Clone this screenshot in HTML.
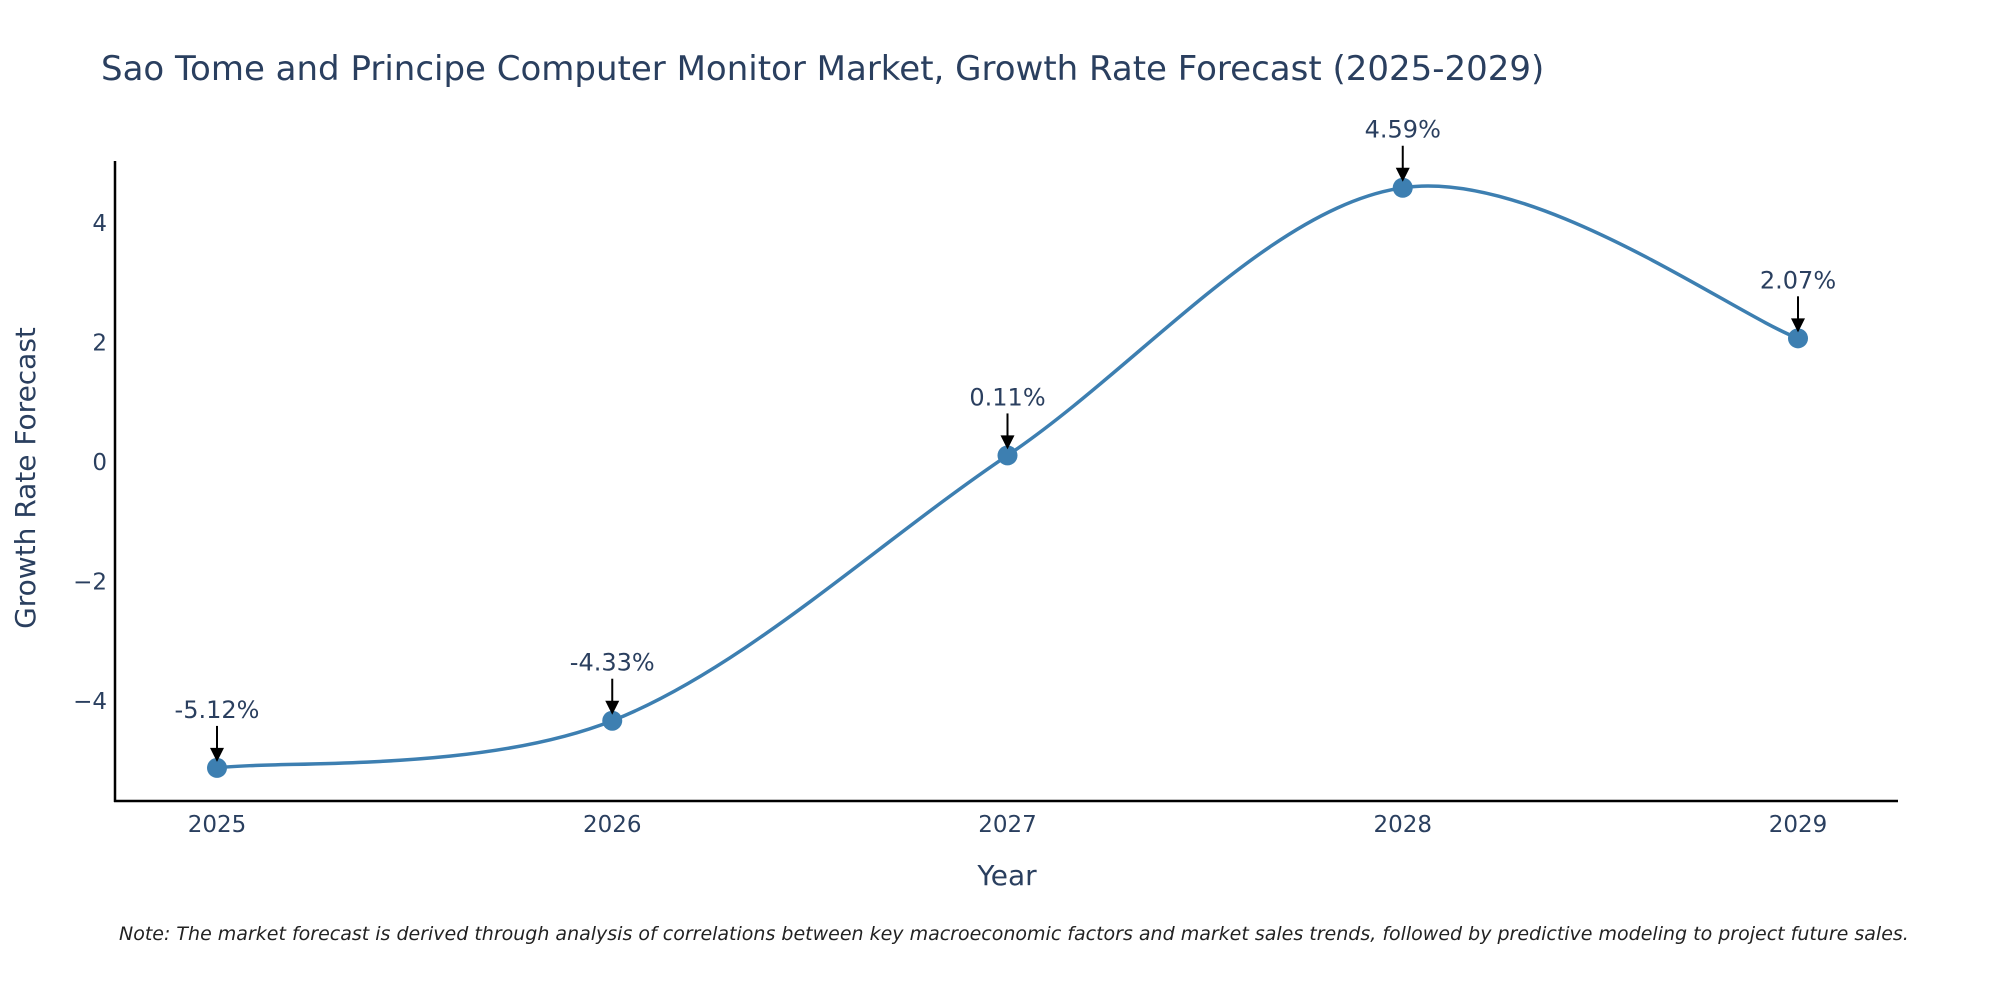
<!DOCTYPE html>
<html><head><meta charset="utf-8">
<style>
html,body{margin:0;padding:0;background:#fff;}
svg{display:block;font-family:"DejaVu Sans","Liberation Sans",sans-serif;}
</style></head>
<body>
<svg id="chart" width="2000" height="1000" viewBox="0 0 2000 1000" xmlns="http://www.w3.org/2000/svg">
<text x="101" y="80" font-size="34" fill="#2a3f5f">Sao Tome and Principe Computer Monitor Market, Growth Rate Forecast (2025-2029)</text>
<g id="yticks"></g>
<g id="xticks"></g>
<line x1="115" y1="161" x2="115" y2="802" stroke="#000" stroke-width="2.5"/>
<line x1="114" y1="801" x2="1898" y2="801" stroke="#000" stroke-width="2.5"/>
<g id="series"></g>
<g id="annots"></g>
<text transform="translate(35,478) rotate(-90)" text-anchor="middle" font-size="28" fill="#2a3f5f">Growth Rate Forecast</text>
<text x="1007" y="885" text-anchor="middle" font-size="28" fill="#2a3f5f">Year</text>
<text x="119" y="940" font-size="19" font-style="italic" fill="#222">Note: The market forecast is derived through analysis of correlations between key macroeconomic factors and market sales trends, followed by predictive modeling to project future sales.</text>
</svg>
<script>
const years = [2025, 2026, 2027, 2028, 2029];
const growth = [-5.12, -4.33, 0.11, 4.59, 2.07];
const labels = ["-5.12%", "-4.33%", "0.11%", "4.59%", "2.07%"];
const yTicks = [-4, -2, 0, 2, 4];
const yTickLabels = ["\u22124", "\u22122", "0", "2", "4"];

const NS = "http://www.w3.org/2000/svg";
function xs(v){ return 217 + (v - 2025) * (1798 - 217) / 4; }
function ys(v){ return 462 - v * 59.75; }
function mk(tag, attrs, parent, txt){
  const e = document.createElementNS(NS, tag);
  for (const k in attrs) e.setAttribute(k, attrs[k]);
  if (txt !== undefined) e.textContent = txt;
  parent.appendChild(e); return e;
}
const yg = document.getElementById('yticks');
yTicks.forEach((t, i) => {
  const el = mk('text', {x: 107, y: ys(t) + 8, 'text-anchor': 'end', 'font-size': 23, fill: '#2a3f5f'}, yg, yTickLabels[i]);
  
  
});
const xg = document.getElementById('xticks');
years.forEach(y => {
  const el = mk('text', {x: xs(y), y: 832, 'text-anchor': 'middle', 'font-size': 23, fill: '#2a3f5f'}, xg, String(y));
  
  
});
const pts = years.map((y, i) => [xs(y), ys(growth[i])]);
let d = `M${pts[0][0]},${pts[0][1]}`;
const tension = 1/6;
for (let i = 0; i < pts.length - 1; i++) {
  const p0 = pts[Math.max(0, i-1)], p1 = pts[i], p2 = pts[i+1], p3 = pts[Math.min(pts.length-1, i+2)];
  const c1 = [p1[0] + (p2[0]-p0[0])*tension, p1[1] + (p2[1]-p0[1])*tension];
  const c2 = [p2[0] - (p3[0]-p1[0])*tension, p2[1] - (p3[1]-p1[1])*tension];
  d += ` C${c1[0]},${c1[1]} ${c2[0]},${c2[1]} ${p2[0]},${p2[1]}`;
}
const sg = document.getElementById('series');
const line = mk('path', {d: d, fill: 'none', stroke: '#3d7fb1', 'stroke-width': 3.5}, sg);


pts.forEach(p => {
  const c = mk('circle', {cx: p[0], cy: p[1], r: 10, fill: '#3d7fb1'}, sg);
  
  
});
const ag = document.getElementById('annots');
pts.forEach((p, i) => {
  const g = mk('g', {}, ag);
  
  
  mk('line', {x1: p[0], y1: p[1]-42, x2: p[0], y2: p[1]-18, stroke: '#000', 'stroke-width': 2}, g);
  mk('path', {d: `M${p[0]-7},${p[1]-20} L${p[0]+7},${p[1]-20} L${p[0]},${p[1]-6} Z`, fill: '#000'}, g);
  mk('text', {x: p[0], y: p[1]-50, 'text-anchor': 'middle', 'font-size': 24, fill: '#2a3f5f'}, g, labels[i]);
});
</script>
</body></html>
